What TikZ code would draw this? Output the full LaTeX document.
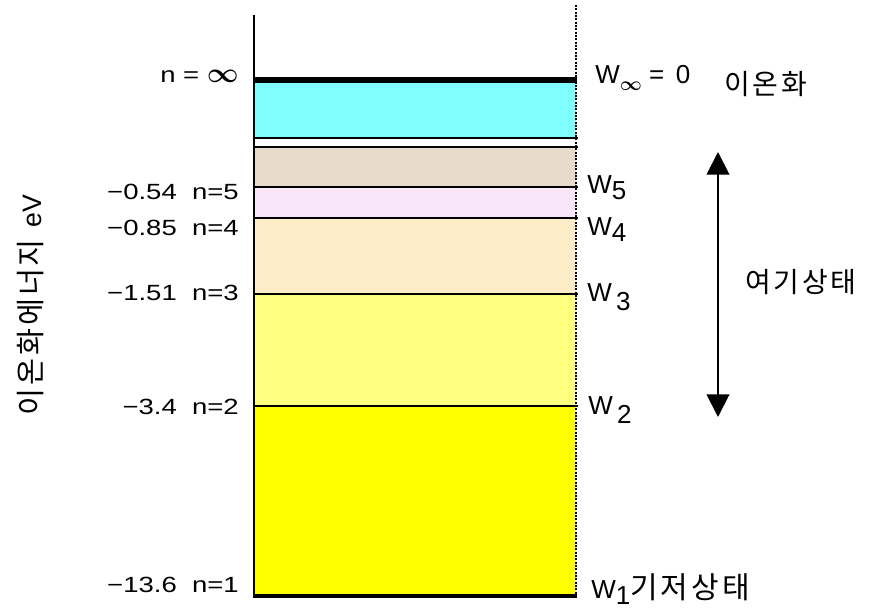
\documentclass[tikz,border=0pt]{standalone}
\usepackage{fontspec}
\setmainfont{Liberation Sans}
\newfontfamily\numfont{Liberation Sans}[FakeStretch=1.25]
\newfontfamily\krfont{Noto Sans CJK KR}[LetterSpace=10]
\definecolor{ioncyan}{RGB}{128,255,255}
\definecolor{levelfive}{RGB}{233,219,204}
\definecolor{levelfour}{RGB}{249,231,249}
\definecolor{levelthree}{RGB}{253,236,200}
\definecolor{leveltwo}{RGB}{255,255,128}
\definecolor{levelone}{RGB}{255,255,0}
\usetikzlibrary{arrows.meta}

\begin{document}
\begin{tikzpicture}[x=0.75pt, y=-0.75pt, >={Triangle[length=17pt,width=17pt]},
  level/.style={line width=1.1pt},
  nlabel/.style={anchor=east, inner sep=0pt, font=\numfont\fontsize{16.5}{18}\selectfont},
  wlabel/.style={anchor=west, inner sep=0pt, font=\fontsize{19.5}{22}\selectfont},
  krlabel/.style={anchor=west, inner sep=0pt, font=\krfont\fontsize{21}{24}\selectfont}]

\useasboundingbox (0,0) rectangle (886,609);

\fill[ioncyan] (254,80) rectangle (576,138);
\fill[levelfive] (254,147) rectangle (576,187);
\fill[levelfour] (254,187) rectangle (576,218);
\fill[levelthree] (254,218) rectangle (576,294);
\fill[leveltwo] (254,294) rectangle (576,406);
\fill[levelone] (254,406) rectangle (576,596);

\draw[level] (254,138) -- (578,138);
\draw[level] (254,147) -- (578,147);
\draw[level] (254,187) -- (578,187);
\draw[level] (254,218) -- (578,218);
\draw[level] (254,294) -- (578,294);
\draw[level] (254,406) -- (578,406);

\draw[line width=1.6pt] (254,15) -- (254,598);
\draw[line width=1.5pt, densely dotted] (576,5) -- (576,598);
\draw[line width=4.5pt] (254,80) -- (577,80);
\draw[line width=3pt] (254,596) -- (577,596);

\node[nlabel] (ninf) at (239,76) {n = {\fontsize{20}{20}\selectfont\boldmath$\infty$}};
\node[nlabel] (nfive) at (239,192) {−0.54~~n=5};
\node[nlabel] (nfour) at (239,228) {−0.85~~n=4};
\node[nlabel] (nthree) at (239,293) {−1.51~~n=3};
\node[nlabel] (ntwo) at (239,407) {−3.4~~n=2};
\node[nlabel] (none) at (239,585) {−13.6~~n=1};

\node[wlabel] (winf) at (595,78) {W\raisebox{-5pt}{\fontsize{14}{14}\selectfont\boldmath$\infty$}\ = \,0};
\node[wlabel] (wfive) at (587,188) {W\raisebox{-4.5pt}{5}};
\node[wlabel] (wfour) at (587,230) {W\raisebox{-4.5pt}{4}};
\node[wlabel] (wthree) at (587,297) {W\,\raisebox{-7pt}{3}};
\node[wlabel] (wtwo) at (588,410) {W\,\raisebox{-7pt}{2}};
\node[wlabel] (wone) at (591,589) {W\raisebox{-4pt}{1}{\krfont\fontsize{22.5}{24}\selectfont 기저상태}};

\node[krlabel] (ion) at (724,84) {이온화};
\node[krlabel] (excited) at (745,282) {여기상태};
\node[rotate=90, inner sep=0pt, font=\fontsize{20}{22}\selectfont] (axis) at (31,305)
  {{\krfont\fontsize{22}{24}\selectfont 이온화에너지}\hspace{9pt}eV};

\coordinate (exctop) at (718,152);
\coordinate (excbot) at (718,417);
\draw[<->, line width=1.5pt] (exctop) -- (excbot);

\end{tikzpicture}
\end{document}
